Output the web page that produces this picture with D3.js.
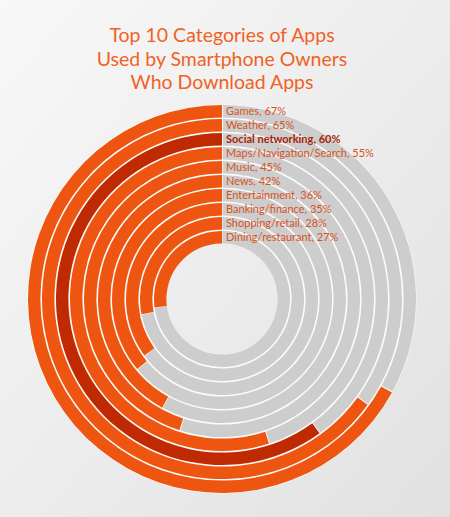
<!DOCTYPE html>
<html>
<head>
<meta charset="utf-8">
<script src="https://cdn.jsdelivr.net/npm/d3@7"></script>
<style>
  body { margin: 0; padding: 0; overflow: hidden; }
  svg { display: block; }
</style>
</head>
<body>
<div id="chart"></div>
<script>
const categories = ["Games", "Weather", "Social networking", "Maps/Navigation/Search", "Music",
    "News", "Entertainment", "Banking/finance", "Shopping/retail", "Dining/restaurant"];
const percents = [67, 65, 60, 55, 45, 42, 36, 35, 28, 27];
const highlighted = ["Social networking"];
const titleLines = ["Top 10 Categories of Apps", "Used by Smartphone Owners", "Who Download Apps"];

const width = 450;
const height = 517;
const cx = 222, cy = 299;
const outerR = 194;
const ringPitch = 14;
const ringWidth = 12.4;

const orange = "#ee5511";
const darkRed = "#bf2a02";
const grey = "#cdcdcd";
const labelColor = "#d8521c";

const svg = d3.select("#chart").append("svg")
    .attr("width", width)
    .attr("height", height);

let defs = svg.append("defs");
let bg = defs.append("linearGradient")
    .attr("id", "bg")
    .attr("x1", "0").attr("y1", "0")
    .attr("x2", "1").attr("y2", "1");
bg.append("stop").attr("offset", "0%").attr("stop-color", "#f8f8f8");
bg.append("stop").attr("offset", "100%").attr("stop-color", "#e1e1e1");

svg.append("rect")
    .attr("width", width)
    .attr("height", height)
    .attr("fill", "url(#bg)");

// title
svg.append("g")
    .selectAll("text")
    .data(titleLines)
    .join("text")
    .attr("x", 222)
    .attr("y", (d, i) => 42 + i * 23.5)
    .attr("text-anchor", "middle")
    .attr("font-family", "Lato, 'Open Sans', sans-serif")
    .attr("font-size", 19.5)
    .attr("fill", "#f0621f")
    .text(d => d);

// rings scale: category index -> outer radius
const rScale = d3.scaleLinear()
    .domain([0, categories.length - 1])
    .range([outerR, outerR - ringPitch * (categories.length - 1)]);

const angle = d3.scaleLinear()
    .domain([0, 100])
    .range([0, 2 * Math.PI]);

const g = svg.append("g").attr("transform", `translate(${cx},${cy})`);

// white band behind the rings, showing through the gaps
g.append("path")
    .attr("d", d3.arc()({
        innerRadius: rScale(categories.length - 1) - ringWidth,
        outerRadius: outerR + 0.5,
        startAngle: 0,
        endAngle: 2 * Math.PI
    }))
    .attr("fill", "#fbfbfb");

const arc = d3.arc();

categories.forEach((c, i) => {
    const ro = rScale(i);
    const ri = ro - ringWidth;
    const end = -angle(percents[i]);
    // grey remainder
    g.append("path")
        .attr("d", arc({ innerRadius: ri, outerRadius: ro, startAngle: 0.006, endAngle: 2 * Math.PI + end - 0.006 }))
        .attr("fill", grey);
    // coloured share, counter-clockwise from the top
    g.append("path")
        .attr("d", arc({ innerRadius: ri, outerRadius: ro, startAngle: end, endAngle: 0 }))
        .attr("fill", highlighted.includes(c) ? darkRed : orange);
});

// labels
svg.append("g")
    .selectAll("text")
    .data(categories)
    .join("text")
    .attr("x", cx + 4)
    .attr("y", (d, i) => cy - rScale(i) + ringWidth / 2 + 4)
    .attr("font-family", "Lato, 'Open Sans', sans-serif")
    .attr("font-size", 11)
    .attr("font-weight", d => highlighted.includes(d) ? "bold" : "normal")
    .attr("fill", d => highlighted.includes(d) ? "#a82408" : labelColor)
    .text((d, i) => `${d}, ${percents[i]}%`);
</script>
</body>
</html>
